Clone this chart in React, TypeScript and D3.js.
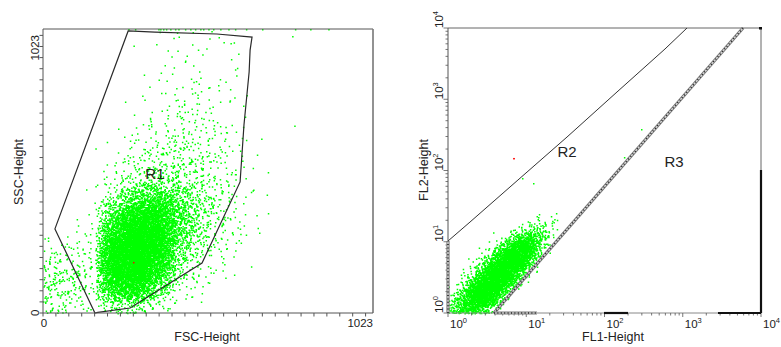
import React from "react";
import * as d3 from "d3";

// ---------------- data ----------------
// Left plot: linear channels 0..1023
const fscDomain: [number, number] = [0, 1023];
const sscDomain: [number, number] = [0, 1023];
const linearTickStep = 40;
const linearEndLabels = ["0", "1023"];

// Right plot: log decades 10^0 .. 10^4
const logDomain: [number, number] = [1, 10000];
const decadeExponents = ["0", "1", "2", "3", "4"];

// Event counts per 64-channel bin.
// row index = SSC bin (row 0 = channels 0-63), column index = FSC bin
const leftBin = 64;
const leftDensity: number[][] = [
  [25, 15, 5, 50, 55, 15, 3, 1, 0, 0, 0, 0, 0, 0, 0, 0],
  [45, 35, 18, 420, 480, 150, 20, 5, 2, 0, 0, 0, 0, 0, 0, 0],
  [35, 28, 18, 700, 820, 380, 55, 15, 5, 2, 0, 0, 0, 0, 0, 0],
  [12, 15, 12, 650, 920, 580, 100, 30, 10, 3, 0, 0, 0, 0, 0, 0],
  [2, 5, 8, 420, 820, 680, 170, 55, 20, 6, 1, 0, 0, 0, 0, 0],
  [0, 0, 3, 200, 520, 540, 190, 65, 25, 8, 1, 0, 0, 0, 0, 0],
  [0, 0, 2, 50, 180, 220, 130, 55, 22, 8, 1, 0, 0, 0, 0, 0],
  [0, 0, 1, 12, 40, 60, 50, 32, 15, 6, 1, 0, 0, 0, 0, 0],
  [0, 0, 1, 5, 18, 30, 34, 25, 14, 6, 1, 0, 0, 0, 0, 0],
  [0, 0, 0, 2, 10, 19, 24, 19, 11, 4, 1, 0, 0, 0, 0, 0],
  [0, 0, 0, 1, 4, 9, 14, 14, 9, 3, 0, 1, 0, 0, 0, 0],
  [0, 0, 0, 0, 2, 6, 9, 9, 5, 2, 0, 0, 0, 0, 0, 0],
  [0, 0, 0, 0, 0, 4, 8, 8, 5, 3, 0, 0, 0, 0, 0, 0],
  [0, 0, 0, 0, 0, 2, 4, 4, 3, 2, 0, 0, 0, 0, 0, 0],
  [0, 0, 0, 0, 1, 1, 3, 3, 2, 2, 0, 0, 0, 0, 0, 0],
  [0, 0, 0, 0, 0, 2, 4, 3, 3, 1, 0, 1, 0, 0, 0, 0],
];
// events piled at SSC = 1023 (FSC channel)
const leftTopPileFSC = [264, 285, 357, 363, 372, 381, 394, 409, 419, 440, 456, 471, 487, 496, 512, 527, 549, 574, 595, 629, 679, 781, 828, 884];
const leftRedEvents: [number, number][] = [[279, 184]];

// Event counts per 1/8-decade bin (log FL1 x log FL2).
// row index = FL2 bin (row 0 = 10^0..10^0.125), column index = FL1 bin
const rightBin = 0.125;
const rightDensity: number[][] = [
  [30, 80, 95, 55, 12, 2, 0, 0, 0, 0, 0, 0],
  [18, 70, 150, 180, 95, 15, 0, 0, 0, 0, 0, 0],
  [5, 30, 125, 210, 195, 70, 6, 0, 0, 0, 0, 0],
  [0, 8, 55, 180, 235, 180, 55, 5, 0, 0, 0, 0],
  [0, 2, 14, 80, 210, 235, 165, 40, 3, 0, 0, 0],
  [0, 0, 3, 25, 110, 220, 230, 125, 18, 0, 0, 0],
  [0, 0, 0, 4, 30, 125, 210, 195, 65, 5, 0, 0],
  [0, 0, 0, 1, 4, 30, 105, 160, 110, 18, 0, 0],
  [0, 0, 0, 0, 0, 3, 20, 60, 85, 40, 4, 0],
  [0, 0, 0, 0, 0, 0, 2, 8, 18, 20, 8, 0],
  [0, 0, 0, 0, 0, 0, 0, 0, 2, 5, 5, 1],
];
const rightGreenOutliers: [number, number][] = [[8.83, 78.5], [12.2, 66.8], [177, 155], [293, 382]];
const rightRedEvents: [number, number][] = [[6.77, 150]];

// Gates
const gateR1: [number, number][] = [
  [264, 1016], [347, 1012], [539, 1005], [648, 994], [642, 947], [639, 868],
  [623, 677], [611, 472], [493, 180], [270, 18], [170, 2], [161, 0], [37, 303],
];
const gateR2: [number, number][] = [
  [1, 10.24], [1.91, 18.9], [7.84, 73.6], [33.2, 295], [144.5, 1265], [593, 5074], [1133, 10000],
];
const gateR3: [number, number][] = [[3.87, 1], [5888, 10000]];
const hatchedEdges: [number, number][][] = [
  [[1, 1], [1, 10.24]],
  [[3.87, 1], [13.7, 1]],
];
const solidEdges: [number, number][][] = [
  [[98.6, 1], [199.6, 1]],
  [[2820, 1], [10000, 1]],
  [[10000, 1], [10000, 101.6]],
];
const regionLabels = [
  { name: "R1", panel: "left", x: 347, y: 483 },
  { name: "R2", panel: "right", x: 33.2, y: 155 },
  { name: "R3", panel: "right", x: 773, y: 112 },
];

// ---------------- helpers ----------------
function halton(i: number, b: number) {
  let f = 1, r = 0;
  while (i > 0) {
    f /= b;
    r += f * (i % b);
    i = Math.floor(i / b);
  }
  return r;
}
const reflect = (v: number, lo: number, hi: number) => (v < lo ? 2 * lo - v : v > hi ? 2 * hi - v : v);

function densityToEvents(grid: number[][], bin: number, lo: number, hi: number, seedOffset: number) {
  const out: [number, number][] = [];
  let k = seedOffset;
  grid.forEach((row, r) => {
    row.forEach((n, c) => {
      for (let j = 0; j < n; j++) {
        k++;
        const u = halton(k, 2) + halton(k, 3) - 0.5;
        const v = halton(k, 5) + halton(k, 7) - 0.5;
        out.push([reflect((c + u) * bin, lo, hi), reflect((r + v) * bin, lo, hi)]);
      }
    });
  });
  return out;
}

const FONT = "'Liberation Sans', Arial, Helvetica, sans-serif";
const DOT = 1.5;

function dotsPath(pts: [number, number][]) {
  return pts.map(([x, y]) => `M${x.toFixed(1)},${y.toFixed(1)}h${DOT}v${DOT}h-${DOT}z`).join("");
}

export default function App() {
  // left scales
  const lx = d3.scaleLinear().domain(fscDomain).range([43, 373]);
  const ly = d3.scaleLinear().domain(sscDomain).range([313, 29]);
  // right scales
  const rx = d3.scaleLog().domain(logDomain).range([448, 761]);
  const ry = d3.scaleLog().domain(logDomain).range([313, 28]);

  const leftEvents = densityToEvents(leftDensity, leftBin, 0, 1023, 0);
  const leftPts: [number, number][] = leftEvents.map(([x, y]) => [lx(x), ly(y)]);
  leftTopPileFSC.forEach((x) => leftPts.push([lx(x), ly(1023)]));

  const rightEvents = densityToEvents(rightDensity, rightBin, 0, 4, 30000);
  const rightPts: [number, number][] = rightEvents.map(([a, b]) => [rx(Math.pow(10, a)), ry(Math.pow(10, b))]);
  rightGreenOutliers.forEach(([a, b]) => rightPts.push([rx(a), ry(b)]));

  const linTicks = d3.range(0, 1001, linearTickStep);
  const logTicks: number[] = [];
  for (let d = 0; d < 4; d++) for (let m = 1; m < 10; m++) logTicks.push(m * Math.pow(10, d));
  logTicks.push(10000);
  const decadeVals = decadeExponents.map((e) => Math.pow(10, +e));

  const r1Line = d3.line<[number, number]>().x((d) => lx(d[0])).y((d) => ly(d[1]));
  const rLine = d3.line<[number, number]>().x((d) => rx(d[0])).y((d) => ry(d[1]));

  const axisColor = "#555";
  const textColor = "#222";

  return (
    <svg width={781} height={347} style={{ position: "absolute", left: 0, top: 0, background: "#fff" }} fontFamily={FONT}>
      <rect x={0} y={0} width={781} height={347} fill="#fff" />

      {/* ---------- LEFT PANEL ---------- */}
      <path d={dotsPath(leftPts)} fill="#00ff00" />
      {leftRedEvents.map(([x, y], i) => (
        <rect key={i} x={lx(x)} y={ly(y)} width={DOT} height={DOT} fill="#ff0000" />
      ))}
      <path d={r1Line(gateR1)! + "Z"} fill="none" stroke="#2a2a2a" strokeWidth={1.2} />

      {/* frame */}
      <line x1={43} y1={29} x2={373} y2={29} stroke={axisColor} strokeWidth={1} />
      <line x1={373} y1={29} x2={373} y2={313} stroke="#777" strokeWidth={1.6} />
      <line x1={43} y1={313} x2={373} y2={313} stroke={axisColor} strokeWidth={1} />
      <line x1={43} y1={29} x2={43} y2={313} stroke={axisColor} strokeWidth={1} />
      {linTicks.map((t) => (
        <g key={"lt" + t}>
          <line x1={lx(t)} x2={lx(t)} y1={313} y2={316.5} stroke={axisColor} />
          <line x1={43} x2={39.5} y1={ly(t)} y2={ly(t)} stroke={axisColor} />
        </g>
      ))}
      <text x={44} y={327} fontSize={11.5} textAnchor="middle" fill={textColor}>{linearEndLabels[0]}</text>
      <text x={373} y={327} fontSize={11.5} textAnchor="end" fill={textColor}>{linearEndLabels[1]}</text>
      <text transform="translate(38.5,316) rotate(-90)" fontSize={11.5} textAnchor="start" fill={textColor}>{linearEndLabels[0]}</text>
      <text transform="translate(38.5,35) rotate(-90)" fontSize={11.5} textAnchor="end" fill={textColor}>{linearEndLabels[1]}</text>
      <text x={207} y={341} fontSize={12.5} textAnchor="middle" fill={textColor}>FSC-Height</text>
      <text transform="translate(23,172) rotate(-90)" fontSize={12.5} textAnchor="middle" fill={textColor}>SSC-Height</text>

      {/* ---------- RIGHT PANEL ---------- */}
      <path d={dotsPath(rightPts)} fill="#00ff00" />
      {rightRedEvents.map(([x, y], i) => (
        <rect key={i} x={rx(x)} y={ry(y)} width={2} height={1.5} fill="#ff2020" />
      ))}

      {/* frame */}
      <line x1={448} y1={28} x2={761} y2={28} stroke="#666" strokeWidth={1} />
      <line x1={761} y1={28} x2={761} y2={313} stroke="#666" strokeWidth={1} />
      <line x1={448} y1={313} x2={761} y2={313} stroke="#888" strokeWidth={1} />
      <line x1={448} y1={28} x2={448} y2={313} stroke={axisColor} strokeWidth={1} />
      {logTicks.map((t, i) => {
        const major = decadeVals.includes(t);
        return (
          <g key={"rt" + i}>
            <line x1={rx(t)} x2={rx(t)} y1={313} y2={major ? 317 : 315.5} stroke={axisColor} strokeWidth={0.8} />
            <line x1={448} x2={major ? 443.5 : 445.5} y1={ry(t)} y2={ry(t)} stroke={axisColor} strokeWidth={0.8} />
          </g>
        );
      })}
      {decadeExponents.map((e, i) => (
        <text key={"xl" + e} x={rx(decadeVals[i]) + 2} y={328} fontSize={11.5} fill={textColor}>
          10<tspan fontSize={7.5} dy={-5}>{e}</tspan>
        </text>
      ))}
      {decadeExponents.map((e, i) => (
        <text key={"yl" + e} transform={`translate(443,${ry(decadeVals[i])}) rotate(-90)`} fontSize={11.5} fill={textColor}>
          10<tspan fontSize={7.5} dy={-5}>{e}</tspan>
        </text>
      ))}
      <text x={613} y={341} fontSize={12.5} textAnchor="middle" fill={textColor}>FL1-Height</text>
      <text transform="translate(428,170) rotate(-90)" fontSize={12.5} textAnchor="middle" fill={textColor}>FL2-Height</text>

      {/* gates */}
      <path d={rLine(gateR2)!} fill="none" stroke="#333" strokeWidth={1} />
      {[gateR3, ...hatchedEdges].map((seg, i) => (
        <g key={"h" + i}>
          <path d={rLine(seg)!} fill="none" stroke="#7a7a7a" strokeWidth={3.2} />
          <path d={rLine(seg)!} fill="none" stroke="#d8d8d8" strokeWidth={1.2} />
          <path d={rLine(seg)!} fill="none" stroke="#222" strokeWidth={1.6} strokeDasharray="1 2.4" />
        </g>
      ))}
      {solidEdges.map((seg, i) => (
        <path key={"s" + i} d={rLine(seg)!} fill="none" stroke="#111" strokeWidth={2.2} />
      ))}
      <rect x={759} y={27} width={3} height={2.5} fill="#111" />

      {/* region labels */}
      {regionLabels.map((r) => {
        const x = r.panel === "left" ? lx(r.x) : rx(r.x);
        const y = r.panel === "left" ? ly(r.y) : ry(r.y);
        return (
          <text key={r.name} x={x} y={y} fontSize={15} textAnchor="middle" fill="#222">{r.name}</text>
        );
      })}
    </svg>
  );
}
